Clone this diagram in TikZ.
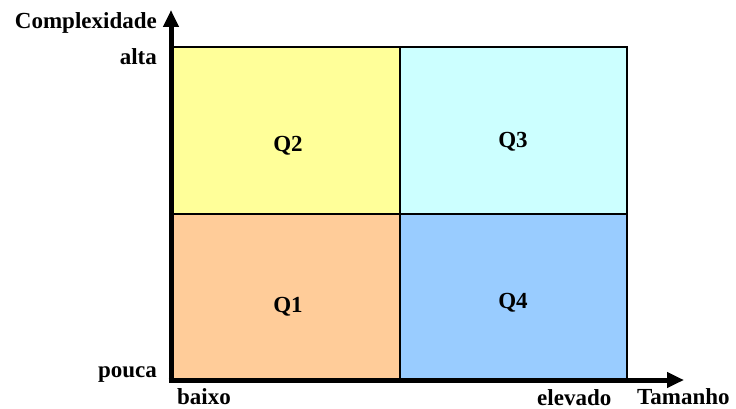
\documentclass[tikz,border=0pt]{standalone}
\usepackage{fontspec}
\setmainfont{Liberation Serif}
\usetikzlibrary{arrows.meta}
\definecolor{cq1}{HTML}{FFCC99}
\definecolor{cq2}{HTML}{FFFF99}
\definecolor{cq3}{HTML}{CCFFFF}
\definecolor{cq4}{HTML}{99CCFF}
\tikzset{
  cell/.style={draw=black, line width=2pt, minimum height=167pt, inner sep=0pt, anchor=north west},
  lbl/.style={font=\fontsize{23}{23}\selectfont\bfseries, inner sep=0pt},
  axis/.style={line width=5pt, -{Triangle[length=17pt,width=15pt]}}
}
\begin{document}
\begin{tikzpicture}[x=1pt,y=-1pt]
\useasboundingbox (0,0) rectangle (736,409);
\node[cell, fill=cq2, minimum width=228pt] (c2) at (171,46) {};
\node[cell, fill=cq3, minimum width=227pt] (c3) at (399,46) {};
\node[cell, fill=cq1, minimum width=228pt] (c1) at (171,213) {};
\node[cell, fill=cq4, minimum width=227pt] (c4) at (399,213) {};
\node[lbl, anchor=base] (q2) at (288,152) {Q2};
\node[lbl, anchor=base] (q3) at (513,148) {Q3};
\node[lbl, anchor=base] (q1) at (288,312) {Q1};
\node[lbl, anchor=base] (q4) at (513,308) {Q4};
\coordinate (o) at (171,380);
\coordinate (ytip) at (171,10);
\coordinate (xtip) at (684,380);
\draw[axis] (o) -- (ytip);
\draw[axis] ([xshift=-2.5pt]o) -- (xtip);
\node[lbl, anchor=base east] (cx) at (157,29) {Complexidade};
\node[lbl, anchor=base east] (alta) at (157,65) {alta};
\node[lbl, anchor=base east] (pouca) at (157,377) {pouca};
\node[lbl, anchor=base west] (baixo) at (177,404) {baixo};
\node[lbl, anchor=base west] (elev) at (537,405) {elevado};
\node[lbl, anchor=base west] (tam) at (637,404) {Tamanho};
\end{tikzpicture}
\end{document}
